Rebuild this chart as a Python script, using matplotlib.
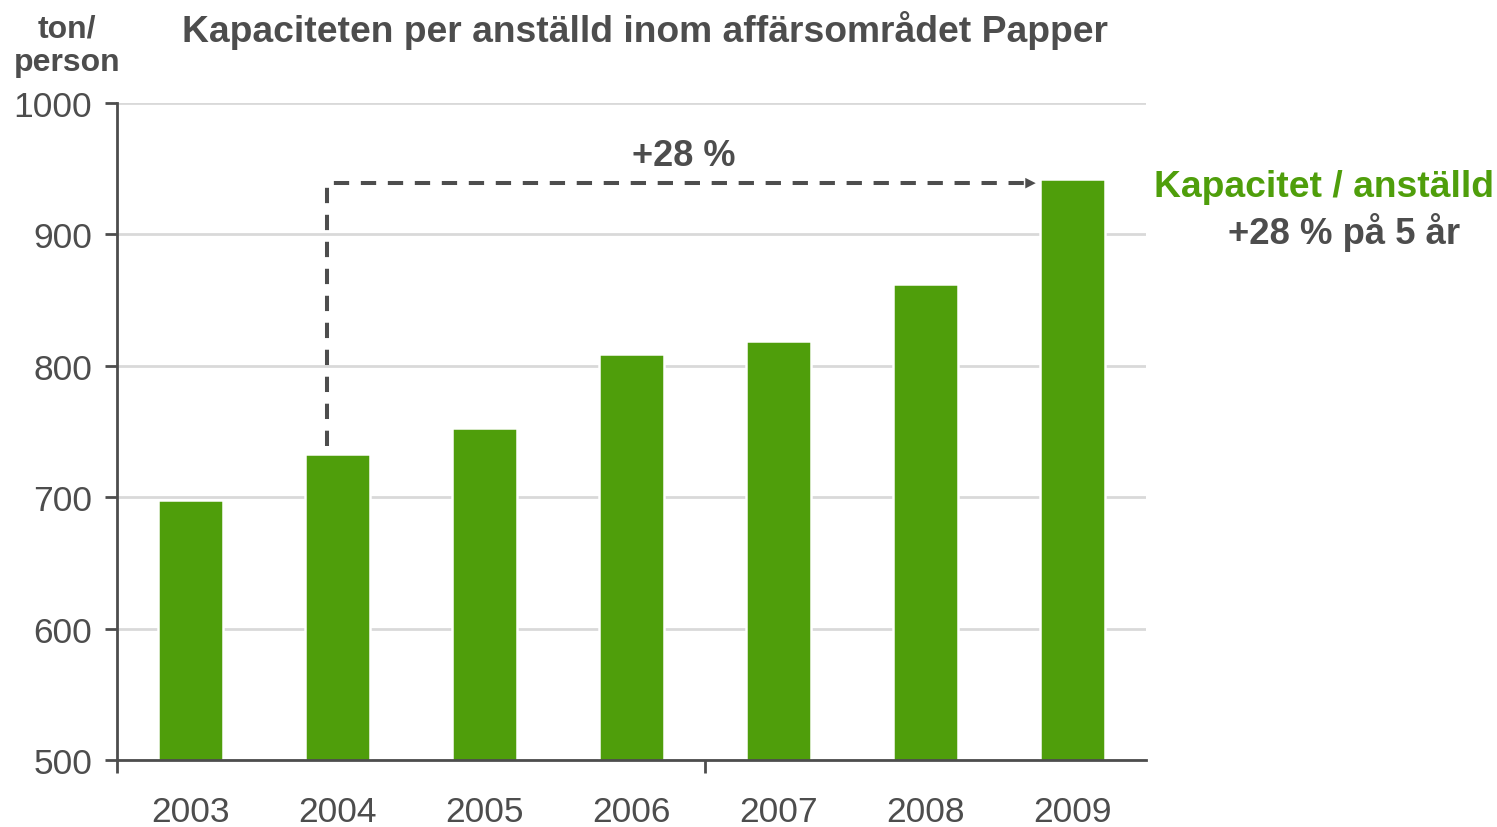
import matplotlib.pyplot as plt
from matplotlib.ticker import FixedLocator

plt.rcParams['font.family'] = ['Liberation Sans', 'DejaVu Sans']

years = ["2003", "2004", "2005", "2006", "2007", "2008", "2009"]
capacity = [698, 733, 753, 809, 819, 862, 942]
arrow_level = 939
growth_label = "+28 %"
yticks = [500, 600, 700, 800, 900, 1000]

green = "#4f9e0b"
dark = "#4d4d4d"

fig = plt.figure(figsize=(14.97, 8.28), dpi=100)
ax = fig.add_axes([0.0782, 0.0809, 0.6873, 0.7935])

x = list(range(len(years)))
ax.bar(x, capacity, width=0.445, color=green, edgecolor="white", linewidth=1.8, zorder=2)

ax.set_xlim(-0.5, len(years) - 0.5)
ax.set_ylim(500, 1000)
ax.set_yticks(yticks)
ax.set_yticklabels([str(v) for v in yticks])
ax.yaxis.grid(True, color="#d9d9d9", linewidth=2, zorder=0)
ax.set_axisbelow(True)

# boundary ticks on x, labels at bar centres without marks
ax.xaxis.set_major_locator(FixedLocator([-0.5, 3.5]))
ax.set_xticklabels(["", ""])
ax.xaxis.set_minor_locator(FixedLocator(x))
ax.set_xticklabels(years, minor=True)
ax.tick_params(axis="x", which="major", length=9, width=2, color=dark, direction="out")
ax.tick_params(axis="x", which="minor", length=0, pad=25, labelsize=25.5, labelcolor=dark)
ax.tick_params(axis="y", length=9, width=2, color=dark, pad=9, labelsize=25.5, labelcolor=dark)

for side in ["top", "right"]:
    ax.spines[side].set_visible(False)
for side in ["left", "bottom"]:
    ax.spines[side].set_color(dark)
    ax.spines[side].set_linewidth(2)

# dashed growth arrow from 2004 to 2009
x0 = 1 - 0.075
x1 = 6 - 0.25
ax.plot([x0, x0, x1 - 0.08], [capacity[1] + 6, arrow_level, arrow_level],
        color=dark, linewidth=2.9, dashes=(3.8, 2.9), zorder=3)
ax.annotate("", xy=(x1, arrow_level), xytext=(x1 - 0.12, arrow_level),
            arrowprops=dict(arrowstyle="-|>,head_length=0.75,head_width=0.38",
                            color=dark, linewidth=0, shrinkA=0, shrinkB=0), zorder=3)
ax.text((x0 + x1) / 2 + 0.02, arrow_level + 8, growth_label, ha="center", va="bottom",
        fontsize=26, fontweight="bold", color=dark)

fig.text(0.431, 0.963, "Kapaciteten per anställd inom affärsområdet Papper",
         ha="center", va="center", fontsize=26.8, fontweight="bold", color=dark)
fig.text(0.045, 0.944, "ton/\nperson", ha="center", va="center",
         fontsize=23, fontweight="bold", color=dark, linespacing=1.15)

fig.text(0.8845, 0.774, "Kapacitet / anställd", ha="center", va="center",
         fontsize=26.8, fontweight="bold", color=green)
fig.text(0.898, 0.719, growth_label + " på 5 år", ha="center", va="center",
         fontsize=26.3, fontweight="bold", color=dark)

fig.savefig("out.png", dpi=100)
